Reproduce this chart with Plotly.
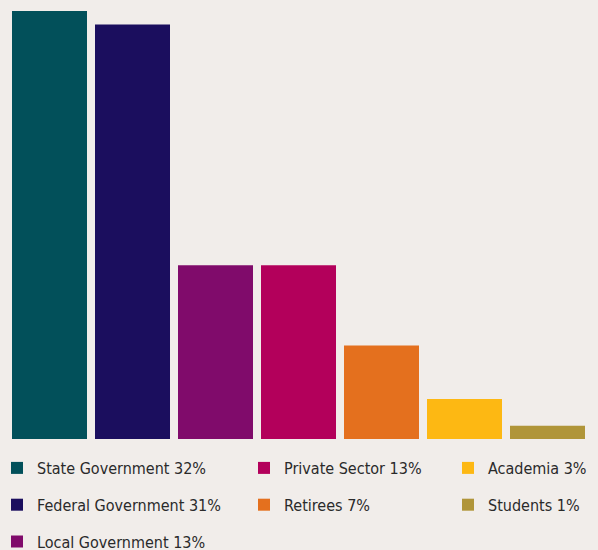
import plotly.graph_objects as go

categories = ["State Government", "Federal Government", "Local Government",
              "Private Sector", "Retirees", "Academia", "Students"]
values = [32, 31, 13, 13, 7, 3, 1]
colors = ["#02505a", "#1b0e5e", "#800b6b", "#b3005b", "#e4701e", "#fdb813", "#b09539"]
legend_ids = ["legend", "legend", "legend", "legend2", "legend2", "legend3", "legend3"]

BG = "#f1edea"
FONT = "DejaVu Sans Condensed, Liberation Sans Narrow, sans-serif"

fig = go.Figure()
for i, (cat, val, col, lg) in enumerate(zip(categories, values, colors, legend_ids)):
    fig.add_trace(go.Bar(
        x=[i], y=[val], name=f"{cat} {val}%",
        marker=dict(color=col, line=dict(width=0)),
        width=75 / 83,
        legend=lg, legendgroup=cat, showlegend=True,
        hovertemplate=f"{cat}: {val}%<extra></extra>",
    ))

W, H = 598, 550
ML, MR, MT, MB = 8, 9, 11, 111
PW, PH = W - ML - MR, H - MT - MB

def leg(xpx, ypx):
    return dict(
        x=(xpx - ML) / PW, y=((H - MB) - ypx) / PH, xref="paper", yref="paper",
        xanchor="left", yanchor="top", orientation="v",
        bgcolor="rgba(0,0,0,0)", borderwidth=0,
        font=dict(family=FONT, size=16, color="#2a2a2a"),
        tracegroupgap=13, itemclick=False, itemdoubleclick=False,
    )

fig.update_layout(
    width=W, height=H,
    paper_bgcolor=BG, plot_bgcolor=BG,
    margin=dict(l=ML, r=MR, t=MT, b=MB, autoexpand=False),
    barmode="overlay",
    xaxis=dict(visible=False, range=[-0.5, 6.5]),
    yaxis=dict(visible=False, range=[0, 32]),
    showlegend=True,
    legend=leg(-3, 451),
    legend2=leg(244, 451),
    legend3=leg(448, 451),
    font=dict(family=FONT),
)

fig.write_html("out.html")
